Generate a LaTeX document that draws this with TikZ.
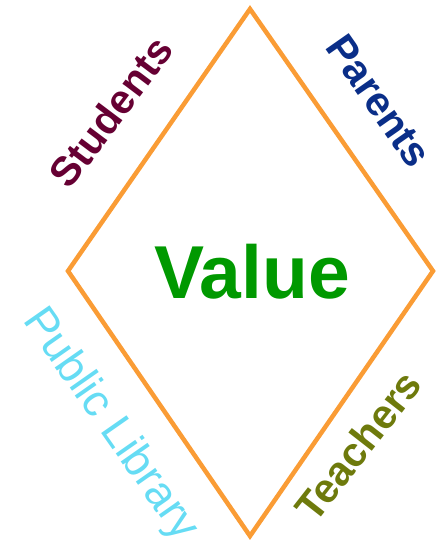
\documentclass[tikz,border=0pt]{standalone}
\usepackage{fontspec}
\setmainfont{Liberation Sans}
\definecolor{dorange}{HTML}{FA9C35}
\definecolor{cstud}{HTML}{660033}
\definecolor{cpar}{HTML}{0A2E88}
\definecolor{clib}{HTML}{66DCF4}
\definecolor{cteach}{HTML}{6E7A0C}
\definecolor{cval}{HTML}{009900}
\tikzset{
  lbl/.style={font=\fontsize{41}{48}\selectfont\bfseries, inner sep=0pt},
  lblr/.style={font=\fontsize{45}{52}\selectfont, inner sep=0pt},
  edge/.style={draw=dorange, line width=4.5pt, line join=miter}
}
\begin{document}
\begin{tikzpicture}[x=1pt,y=-1pt]
\useasboundingbox (0,0) rectangle (437,547);
\coordinate (t) at (250,9);
\coordinate (l) at (68,271);
\coordinate (r) at (433,271);
\coordinate (b) at (250,536);
\draw[edge] (t) -- (r) -- (b) -- (l) -- cycle;
\node[font=\fontsize{75}{80}\selectfont\bfseries, text=cval, inner sep=0pt] (val) at (252,272) {Value};
\node[lbl, text=cstud, rotate=53] (stud) at (111,112) {Students};
\node[lbl, text=cpar, rotate=-55] (par) at (379,101) {Parents};
\node[lblr, text=clib, rotate=-55] (lib) at (110,425) {Public Library};
\node[lbl, text=cteach, rotate=52] (teach) at (358,446) {Teachers};
\end{tikzpicture}
\end{document}
